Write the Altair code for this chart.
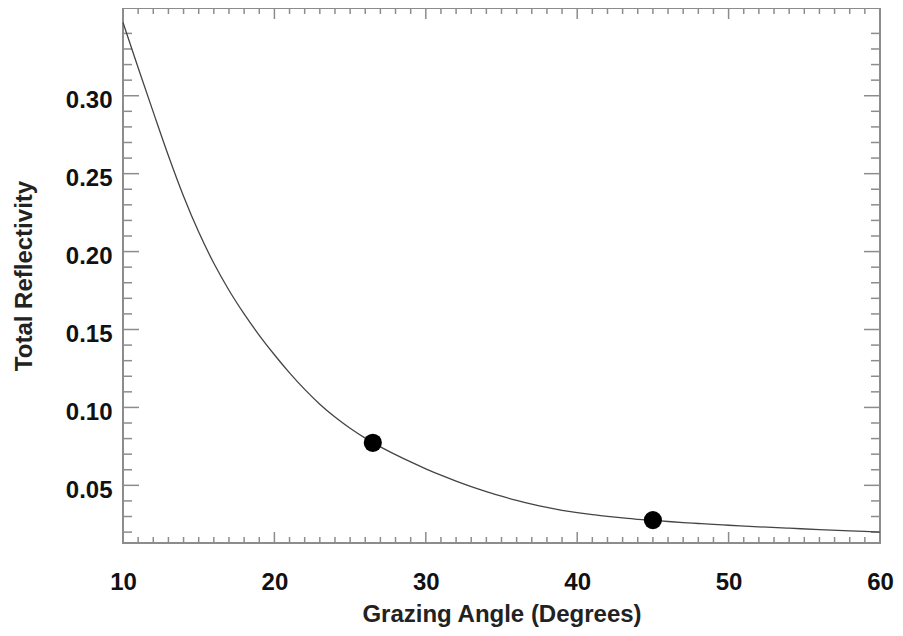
import altair as alt
import pandas as pd

# Curve: grazing angle (deg) vs total reflectivity
ANGLE = [10, 11, 12, 13, 14, 15, 16, 17, 18, 19, 20, 21, 22, 23, 24, 25, 26, 27, 28, 29,
         30, 31, 32, 33, 34, 35, 36, 37, 38, 39, 40, 41, 42, 43, 44, 45, 46, 47, 48, 49,
         50, 52, 54, 56, 58, 60]
REFL = [0.347, 0.318, 0.2895, 0.2615, 0.2355, 0.2125, 0.1925, 0.1752, 0.1600, 0.1463,
        0.1338, 0.1222, 0.1116, 0.1021, 0.0938, 0.0866, 0.0803, 0.0747, 0.0697, 0.0650,
        0.0606, 0.0565, 0.0527, 0.0492, 0.0460, 0.0430, 0.0403, 0.0379, 0.0358, 0.0340,
        0.0325, 0.0312, 0.0301, 0.0291, 0.0282, 0.0275, 0.0268, 0.0261, 0.0255, 0.0249,
        0.0244, 0.0234, 0.0225, 0.0216, 0.0208, 0.0200]

# Measured points
PT_ANGLE = [26.5, 45.0]
PT_REFL = [0.0773, 0.0277]

# Axis ticks
X_MAJOR = [10, 20, 30, 40, 50, 60]
X_MINOR = [v for v in range(11, 60) if v % 10 != 0]
Y_MAJOR = [0.05, 0.10, 0.15, 0.20, 0.25, 0.30]
Y_MINOR = [round(v / 100, 2) for v in range(2, 36) if v % 5 != 0]

X_DOMAIN = [10, 60]
Y_DOMAIN = [0.013, 0.3563]

FONT = "Liberation Sans"
FRAME = "#8c8c8c"

x_scale = alt.Scale(domain=X_DOMAIN, nice=False, zero=False)
y_scale = alt.Scale(domain=Y_DOMAIN, nice=False, zero=False)

x_axis = alt.Axis(
    title="Grazing Angle (Degrees)", values=X_MAJOR, format="d",
    domain=False, ticks=False, grid=False,
    labelFont=FONT, labelFontSize=24, labelFontWeight="bold", labelColor="#111",
    labelBaseline="alphabetic", labelPadding=46, labelFlush=False, labelOverlap=False,
    titleFont=FONT, titleFontSize=24, titleFontWeight="bold", titleColor="#222",
    titleBaseline="alphabetic", titleY=78,
)
y_axis = alt.Axis(
    title="Total Reflectivity", values=Y_MAJOR, format=".2f",
    domain=False, ticks=False, grid=False,
    labelFont=FONT, labelFontSize=24, labelFontWeight="bold", labelColor="#111",
    labelBaseline="alphabetic", labelOffset=12, labelPadding=11,
    labelFlush=False, labelOverlap=False,
    titleFont=FONT, titleFontSize=24, titleFontWeight="bold", titleColor="#222",
    titleAngle=-90, titleAlign="center", titleBaseline="middle", titleX=-99,
)

def X(field):
    return alt.X(field, type="quantitative", scale=x_scale, axis=x_axis)

def Y(field):
    return alt.Y(field, type="quantitative", scale=y_scale, axis=y_axis)

curve_df = pd.DataFrame({"angle": ANGLE, "refl": REFL})
pts_df = pd.DataFrame({"angle": PT_ANGLE, "refl": PT_REFL})

curve = alt.Chart(curve_df).mark_line(color="#444", strokeWidth=1.3, interpolate="monotone").encode(
    x=X("angle"), y=Y("refl"))
dots = alt.Chart(pts_df).mark_circle(size=330, color="black", opacity=1).encode(
    x=X("angle"), y=Y("refl"))

def yticks(vals, length, side):
    df = pd.DataFrame({"refl": vals})
    xv = X_DOMAIN[0] if side == "left" else X_DOMAIN[1]
    off = length if side == "left" else -length
    return alt.Chart(df).mark_rule(color=FRAME, strokeWidth=1.5, x2Offset=off).encode(
        x=alt.XDatum(xv, type="quantitative", scale=x_scale, axis=x_axis),
        x2=alt.X2Datum(xv),
        y=Y("refl"))

def xticks(vals, length, side):
    df = pd.DataFrame({"angle": vals})
    yv = Y_DOMAIN[0] if side == "bottom" else Y_DOMAIN[1]
    off = -length if side == "bottom" else length
    return alt.Chart(df).mark_rule(color=FRAME, strokeWidth=1.5, y2Offset=off).encode(
        y=alt.YDatum(yv, type="quantitative", scale=y_scale, axis=y_axis),
        y2=alt.Y2Datum(yv),
        x=X("angle"))

layers = [
    yticks(Y_MAJOR, 16, "left"), yticks(Y_MINOR, 9, "left"),
    yticks(Y_MAJOR, 16, "right"), yticks(Y_MINOR, 9, "right"),
    xticks(X_MAJOR, 11, "bottom"), xticks(X_MINOR, 6, "bottom"),
    xticks(X_MAJOR, 11, "top"), xticks(X_MINOR, 6, "top"),
    curve, dots,
]

chart = alt.layer(*layers).properties(
    width=757, height=535,
    autosize=alt.AutoSizeParams(type="none"),
    padding={"left": 115, "top": 0, "right": 15, "bottom": 85},
    background="white",
).configure_view(stroke=FRAME, strokeWidth=2)

chart.save("out.html", embed_options={"renderer": "svg", "actions": False})
